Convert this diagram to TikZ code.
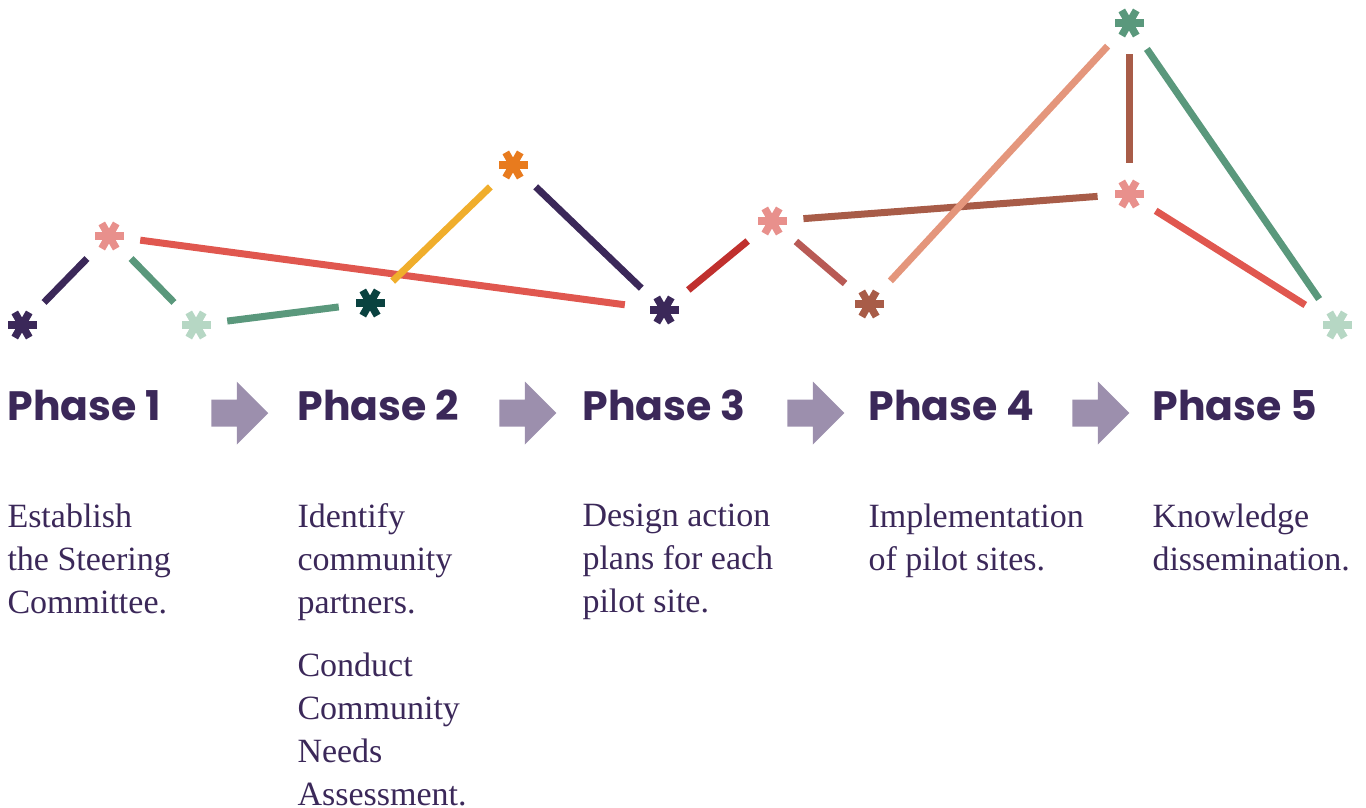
\documentclass[tikz,border=0pt]{standalone}
\usepackage{fontspec}
\setmainfont{Liberation Serif}
\newfontfamily\headfont{Poppins}
\usepackage{tikz}
\usetikzlibrary{positioning,shapes.arrows}

\definecolor{plum}{HTML}{3B2859}
\definecolor{blush}{HTML}{E8908C}
\definecolor{mint}{HTML}{B6D7C4}
\definecolor{pine}{HTML}{0A4240}
\definecolor{tangerine}{HTML}{E87B1E}
\definecolor{rust}{HTML}{A85C48}
\definecolor{sage}{HTML}{5A987C}
\definecolor{coral}{HTML}{E0574F}
\definecolor{gold}{HTML}{F0AE2C}
\definecolor{crimson}{HTML}{C0302E}
\definecolor{rosewood}{HTML}{B85A55}
\definecolor{salmon}{HTML}{E4967C}
\definecolor{lilac}{HTML}{9C8FAD}

\newcommand\spark[3]{%
  \node[spot] (#1) at (#3) {};
  \foreach \ang in {0,60,120}
    \draw[#2,line width=7.5pt] (#1.center) ++(\ang:14.5pt) -- ++(\ang:-29pt);
}

\begin{document}
\begin{tikzpicture}[x=1pt,y=-1pt,line width=7pt]
\tikzstyle{spot}=[circle,inner sep=0pt,minimum size=56pt]
\tikzstyle{phase}=[anchor=base west,inner sep=0pt,text=plum,font=\headfont\bfseries\fontsize{41}{41}\selectfont]
\tikzstyle{step text}=[anchor=north west,inner sep=0pt,align=left,text=plum,font=\fontsize{34}{43}\selectfont]
\tikzstyle{go}=[single arrow,fill=lilac,inner sep=0pt,inner ysep=10pt,minimum height=57pt,single arrow head extend=18pt]

\useasboundingbox (0,0) rectangle (1366,808);

\spark{a1}{plum}{22,325}
\spark{a2}{blush}{109,236}
\spark{a3}{mint}{196,325}
\spark{a4}{pine}{370,303}
\spark{a5}{tangerine}{513,165}
\spark{a6}{plum}{664,310}
\spark{a7}{blush}{772,221}
\spark{a8}{rust}{869,304}
\spark{a9}{sage}{1129,23}
\spark{a10}{blush}{1129,194}
\spark{a11}{mint}{1337,325}

\path
(a1) edge [plum] (a2)
(a2) edge [sage] (a3)
(a2) edge [coral,shorten >=8pt] (a6)
(a3) edge [sage] (a4)
(a4) edge [gold] (a5)
(a5) edge [plum] (a6)
(a6) edge [crimson] (a7)
(a7) edge [rosewood] (a8)
(a7) edge [rust] (a10)
(a8) edge [salmon] (a9)
(a9) edge [rust] (a10)
(a9) edge [sage] (a11)
(a10) edge [coral,shorten >=6pt] (a11)
;

\node[phase] (ph1) at (4,420) {Phase 1};
\node[phase] (ph2) at (294,420) {Phase 2};
\node[phase] (ph3) at (579,420) {Phase 3};
\node[phase] (ph4) at (865,420) {Phase 4};
\node[phase] (ph5) at (1149,420) {Phase 5};

\node[go] (go1) at (233,413) {};
\node[go] (go2) at (521,413) {};
\node[go] (go3) at (809,413) {};
\node[go] (go4) at (1094,413) {};

\node[step text,below=80pt of ph1.base west,anchor=north west] (st1) {Establish\\the Steering\\Committee.};
\node[step text,below=80pt of ph2.base west,anchor=north west] (st2) {Identify\\community\\partners.\\[20pt]Conduct\\Community\\Needs\\Assessment.};
\node[step text,below=80pt of ph3.base west,anchor=north west] (st3) {Design action\\plans for each\\pilot site.};
\node[step text,below=80pt of ph4.base west,anchor=north west] (st4) {Implementation\\of pilot sites.};
\node[step text,below=80pt of ph5.base west,anchor=north west] (st5) {Knowledge\\dissemination.};
\end{tikzpicture}
\end{document}
